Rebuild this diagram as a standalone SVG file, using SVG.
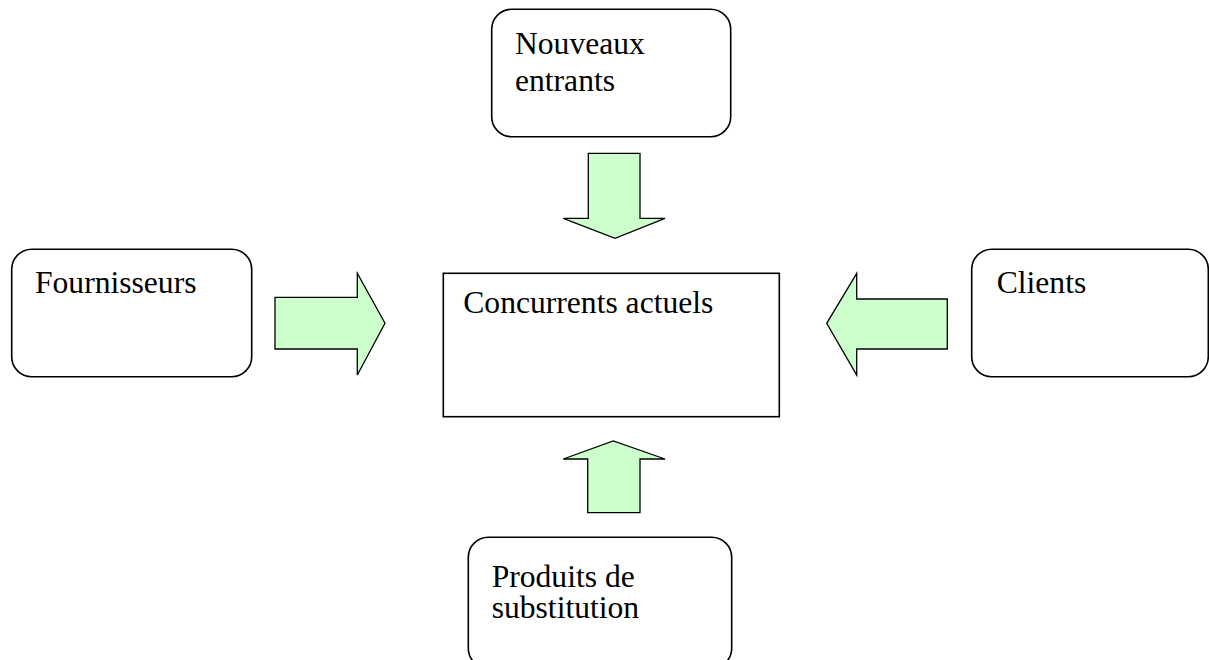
<svg xmlns="http://www.w3.org/2000/svg" width="1209" height="660" viewBox="0 0 1209 660">
<style>
.box{fill:#ffffff;stroke:#000000;stroke-width:1.6}
.arrow{fill:#ccffcc;stroke:#000000;stroke-width:1.3;stroke-linejoin:miter}
text{font-family:"Liberation Serif","Times New Roman",serif;font-size:31.6px;fill:#000000}
</style>
<rect width="1209" height="660" fill="#ffffff"/>
<g id="nouveaux-entrants">
<rect class="box" x="491.7" y="9.3" width="239" height="127.4" rx="20" ry="20"/>
<text x="515" y="54">Nouveaux</text>
<text x="515" y="90.7">entrants</text>
</g>
<g id="fournisseurs">
<rect class="box" x="11.7" y="249.3" width="240" height="127.4" rx="20" ry="20"/>
<text x="35" y="293.3">Fournisseurs</text>
</g>
<g id="concurrents-actuels">
<rect class="box" x="443.3" y="273.3" width="336" height="143.4"/>
<text x="463.3" y="313.3">Concurrents actuels</text>
</g>
<g id="clients">
<rect class="box" x="971.7" y="249.3" width="236.6" height="127.4" rx="20" ry="20"/>
<text x="996.7" y="293.3">Clients</text>
</g>
<g id="produits-de-substitution">
<rect class="box" x="468.3" y="537.3" width="263.4" height="131" rx="20" ry="20"/>
<text x="491.7" y="586.7">Produits de</text>
<text x="491.7" y="618.3">substitution</text>
</g>
<g id="connectors">
<polygon class="arrow" points="588.3,153.3 640,153.3 640,218.3 665,218.3 615,238.3 563.3,218.3 588.3,218.3"/>
<polygon class="arrow" points="275,297.3 357.3,297.3 357.3,273.3 385,323.3 357.3,375 357.3,349 275,349"/>
<polygon class="arrow" points="947.3,299 856.7,299 856.7,273.3 826.7,323.3 856.7,375 856.7,349 947.3,349"/>
<polygon class="arrow" points="587.7,512.7 640,512.7 640,459 665,459 613.3,441 563.3,459 587.7,459"/>
</g>
</svg>
